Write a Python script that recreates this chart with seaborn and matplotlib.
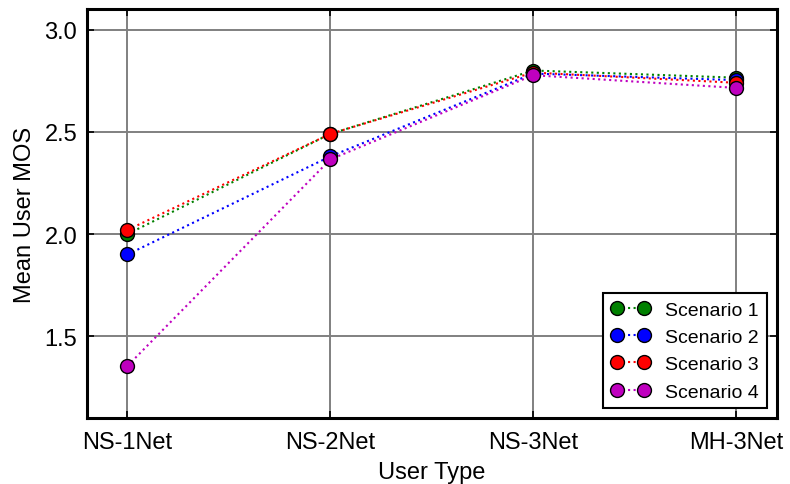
import matplotlib
matplotlib.use("Agg")
import matplotlib.pyplot as plt
import seaborn as sns

categories = ["NS-1Net", "NS-2Net", "NS-3Net", "MH-3Net"]
scenario_names = ["Scenario 1", "Scenario 2", "Scenario 3", "Scenario 4"]
s1 = [2.00, 2.49, 2.80, 2.765]
s2 = [1.90, 2.38, 2.785, 2.753]
s3 = [2.02, 2.49, 2.79, 2.74]
s4 = [1.355, 2.365, 2.777, 2.715]
series = [s1, s2, s3, s4]
colors = ["#008000", "#0000ff", "#ff0000", "#bf00bf"]

sns.set_style("white")
plt.rcParams["font.family"] = ["Liberation Sans", "DejaVu Sans"]
plt.rcParams["text.color"] = "black"
plt.rcParams["axes.labelcolor"] = "black"
plt.rcParams["xtick.color"] = "black"
plt.rcParams["ytick.color"] = "black"

fig = plt.figure(figsize=(7.9, 4.85), dpi=100)
ax = fig.add_axes([0.110, 0.136, 0.873, 0.843])

for name, vals, c in zip(scenario_names, series, colors):
    sns.lineplot(x=categories, y=vals, ax=ax, color=c, marker="o", linestyle=":",
                 linewidth=1.5, markersize=10, markeredgecolor="black",
                 markeredgewidth=1.0, label=name, sort=False)

ax.set_xlim(-0.2, 3.2)
ax.set_ylim(1.1, 3.1)
ax.set_yticks([1.5, 2.0, 2.5, 3.0])
ax.set_yticklabels(["1.5", "2.0", "2.5", "3.0"])
ax.grid(True, color="#808080", linewidth=1.4, linestyle="-")
ax.set_axisbelow(True)
for sp in ax.spines.values():
    sp.set_visible(True)
    sp.set_color("black")
    sp.set_linewidth(2.2)
ax.tick_params(direction="in", length=5, width=1.2, color="black", labelcolor="black",
               top=True, right=True, bottom=True, left=True, labelsize=17)
ax.tick_params(axis="x", pad=9)
ax.tick_params(axis="y", pad=7)
ax.set_xlabel("User Type", fontsize=17, labelpad=6, color="black")
ax.set_ylabel("Mean User MOS", fontsize=17, labelpad=6, color="black")

leg = ax.legend(loc="lower right", numpoints=2, fontsize=14, fancybox=False,
                frameon=True, handlelength=2.0, borderaxespad=0.5)
leg.get_frame().set_edgecolor("black")
leg.get_frame().set_linewidth(1.5)
leg.get_frame().set_alpha(1)
for t in leg.get_texts():
    t.set_color("black")

fig.savefig("out.png", dpi=100)
